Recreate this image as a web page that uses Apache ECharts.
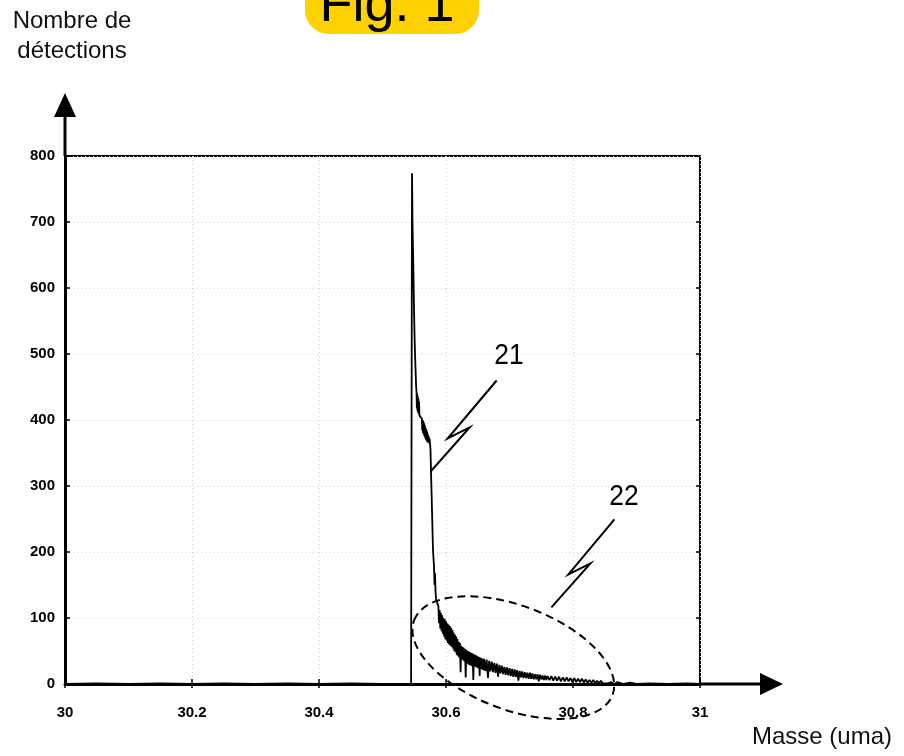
<!DOCTYPE html>
<html>
<head>
<meta charset="utf-8">
<script src="https://cdn.jsdelivr.net/npm/echarts@6/dist/echarts.min.js"></script>
<style>
  html, body { margin: 0; padding: 0; background: #fff; }
  #chart { width: 904px; height: 756px; }
</style>
</head>
<body>
<div id="chart"></div>
<script>
// Axis ranges and tick spacing
const massRange = [30, 31];
const massStep = 0.2;
const countRange = [0, 800];
const countStep = 100;

// Flat background before the peak
const baseMass  = [30.000, 30.050, 30.100, 30.150, 30.200, 30.250, 30.300, 30.350, 30.400, 30.450, 30.500, 30.545];
const baseCount = [0, 1, 0, 1, 0, 1, 0, 1, 0, 1, 0, 0];

// Main peak (21): sharp rise then steep decay with two noisy shoulders
const peakMass = [30.5465, 30.5472, 30.5480, 30.5488, 30.5496, 30.5504, 30.5512, 30.5522, 30.5530,
  30.5536, 30.5541, 30.5546, 30.5551, 30.5556, 30.5561, 30.5566, 30.5571, 30.5576, 30.5582,
  30.5590, 30.5600, 30.5610, 30.5620, 30.5626, 30.5632, 30.5638, 30.5644, 30.5650, 30.5656,
  30.5662, 30.5668, 30.5674, 30.5680, 30.5686, 30.5692, 30.5698, 30.5704, 30.5710, 30.5716,
  30.5722, 30.5728, 30.5734, 30.5740, 30.5748, 30.5756, 30.5764, 30.5780, 30.5795, 30.5810,
  30.5820, 30.5827, 30.5835, 30.5845, 30.5858, 30.5870];
const peakCount = [774, 700, 660, 620, 570, 530, 500, 472, 450,
  442, 418, 440, 414, 436, 411, 432, 409, 428, 407,
  410, 405, 404, 402, 384, 400, 380, 398, 378, 395,
  375, 392, 372, 388, 370, 385, 368, 382, 366, 378,
  366, 375, 365, 372, 365, 355, 321, 262, 203, 180,
  150, 168, 140, 128, 124, 122];

// Noisy tail (22) fading back to the baseline
const tailMass = [30.588, 30.589, 30.590, 30.591, 30.592, 30.593, 30.594, 30.595, 30.596, 30.597,
  30.598, 30.599, 30.600, 30.601, 30.602, 30.603, 30.604, 30.605, 30.606, 30.607,
  30.608, 30.609, 30.610, 30.611, 30.612, 30.613, 30.614, 30.615, 30.616, 30.617,
  30.618, 30.619, 30.620, 30.621, 30.622, 30.623, 30.624, 30.625, 30.626, 30.627,
  30.628, 30.629, 30.630, 30.631, 30.632, 30.633, 30.634, 30.635, 30.636, 30.637,
  30.638, 30.639, 30.640, 30.641, 30.642, 30.643, 30.644, 30.645, 30.646, 30.647,
  30.648, 30.649, 30.650, 30.651, 30.652, 30.653, 30.654, 30.655, 30.656, 30.657,
  30.658, 30.659, 30.660,
  30.662, 30.664, 30.666, 30.668, 30.670, 30.672, 30.674, 30.676, 30.678, 30.680,
  30.682, 30.684, 30.686, 30.688, 30.690, 30.692, 30.694, 30.696, 30.698, 30.700,
  30.702, 30.704, 30.706, 30.708, 30.710, 30.712, 30.714, 30.716, 30.718, 30.720,
  30.722, 30.724, 30.726, 30.728, 30.730, 30.732, 30.734, 30.736, 30.738, 30.740,
  30.742, 30.744, 30.746, 30.748, 30.750, 30.752, 30.754, 30.756, 30.758, 30.760,
  30.763, 30.766, 30.769, 30.772, 30.775, 30.778, 30.781, 30.784, 30.787, 30.790,
  30.793, 30.796, 30.799, 30.802, 30.805, 30.808, 30.811, 30.814, 30.817, 30.820,
  30.823, 30.826, 30.829, 30.832, 30.835, 30.838, 30.841, 30.844, 30.847, 30.850,
  30.855, 30.860, 30.865, 30.870, 30.880, 30.890, 30.900, 30.920, 30.950, 30.980, 31.000];
const tailCount = [118, 92, 112, 84, 108, 80, 104, 76, 100, 72,
  98, 68, 95, 66, 92, 62, 90, 60, 88, 58,
  85, 56, 82, 54, 78, 50, 75, 48, 72, 44,
  68, 42, 64, 40, 62, 18, 58, 38, 56, 36,
  55, 34, 53, 10, 52, 32, 50, 30, 49, 29,
  48, 28, 47, 27, 46, 6, 45, 27, 44, 26,
  43, 25, 42, 24, 41, 12, 40, 23, 39, 22,
  38, 21, 38,
  20, 37, 9, 35, 19, 34, 18, 32, 17, 31,
  11, 29, 16, 28, 15, 26, 14, 25, 13, 24,
  12, 23, 11, 22, 11, 21, 5, 20, 10, 19,
  9, 18, 9, 17, 8, 17, 8, 16, 7, 15,
  7, 15, 4, 14, 7, 13, 6, 13, 6, 12,
  6, 12, 5, 11, 5, 11, 4, 10, 4, 10,
  4, 9, 3, 9, 3, 8, 3, 8, 2, 7,
  2, 6, 2, 6, 1, 5, 1, 5, 1, 4,
  1, 3, 0, 3, 0, 2, 0, 1, 0, 1, 0];

// Text
const yTitleLines = ['Nombre de', 'détections'];
const xTitle = 'Masse (uma)';
const figLabel = 'Fig. 1';
const peakLabel = '21';
const tailLabel = '22';

function zip(xs, ys) { return xs.map((x, i) => [x, ys[i]]); }
const spectrum = [].concat(zip(baseMass, baseCount), zip(peakMass, peakCount), zip(tailMass, tailCount));

const SANS = "'Liberation Sans', Arial, sans-serif";

const chart = echarts.init(document.getElementById('chart'), null, { renderer: 'canvas' });

const tickLabel = { color: '#000', fontFamily: SANS, fontWeight: 'bold', fontSize: 15 };
const gridDots = { show: true, lineStyle: { color: '#d2d2d2', width: 1, type: [1, 3] } };

chart.setOption({
  animation: false,
  backgroundColor: '#fff',
  grid: { left: 65, right: 204, top: 156, bottom: 72, show: true, borderColor: '#000', borderWidth: 2 },
  xAxis: [{
    type: 'value', min: massRange[0], max: massRange[1], interval: massStep,
    axisLine: { show: true, onZero: false, lineStyle: { color: '#000', width: 3 } },
    axisTick: { show: true, inside: true, length: 5, lineStyle: { color: '#000', width: 1.5 } },
    axisLabel: Object.assign({ margin: 21, formatter: v => String(+v.toFixed(1)) }, tickLabel),
    splitLine: gridDots
  }, {
    type: 'value', position: 'top', min: massRange[0], max: massRange[1], interval: massStep,
    axisLine: { show: false }, axisLabel: { show: false }, splitLine: { show: false },
    axisTick: { show: true, inside: true, length: 4, lineStyle: { color: '#000', width: 1.5 } }
  }],
  yAxis: [{
    type: 'value', min: countRange[0], max: countRange[1], interval: countStep,
    axisLine: { show: true, onZero: false, lineStyle: { color: '#000', width: 3 } },
    axisTick: { show: true, inside: true, length: 5, lineStyle: { color: '#000', width: 1.5 } },
    axisLabel: Object.assign({ margin: 10 }, tickLabel),
    splitLine: gridDots
  }, {
    type: 'value', position: 'right', min: countRange[0], max: countRange[1], interval: countStep,
    axisLine: { show: false }, axisLabel: { show: false }, splitLine: { show: false },
    axisTick: { show: true, inside: true, length: 4, lineStyle: { color: '#000', width: 1.5 } }
  }],
  series: [{
    type: 'line', xAxisIndex: 0, yAxisIndex: 0,
    data: spectrum, showSymbol: false, symbol: 'none',
    lineStyle: { color: '#000', width: 1.8 }, z: 3
  }]
});

// Decorations: axis arrows, titles, figure badge and callouts
const px = (m, c) => chart.convertToPixel({ xAxisIndex: 0, yAxisIndex: 0 }, [m, c]);
const origin = px(massRange[0], countRange[0]);
const xEnd = px(massRange[1], countRange[0]);
const yEnd = px(massRange[0], countRange[1]);

const xArrowTip = [xEnd[0] + 83, origin[1]];
const yArrowTip = [origin[0], yEnd[1] - 63];

const ink = { stroke: '#000', lineWidth: 2, fill: null };
const peakEnd = px(30.5758, 322);
const tailEnd = px(30.766, 116);
const ringCentre = px(30.706, 40);

function bolt(end, dxTop, dyTop) {
  // Lightning-style leader drawn from the label down to the curve
  const sx = end[0] + dxTop, sy = end[1] + dyTop;
  return {
    type: 'polyline', z: 10,
    shape: { points: [[sx, sy], [end[0] + 17, end[1] - 33], [end[0] + 39, end[1] - 44], end] },
    style: ink
  };
}

function label(text, x, y) {
  return { type: 'text', z: 10, x: x, y: y, scaleX: 0.88,
    style: { text: text, x: 0, y: 0, textAlign: 'center', textVerticalAlign: 'middle', font: '30px ' + SANS, fill: '#000' } };
}

chart.setOption({
  graphic: { elements: [
    // x-axis extension + arrowhead
    { type: 'line', z: 10, shape: { x1: xEnd[0], y1: origin[1], x2: xArrowTip[0] - 20, y2: origin[1] },
      style: { stroke: '#000', lineWidth: 3 } },
    { type: 'polygon', z: 10, shape: { points: [[xArrowTip[0] - 23, origin[1] - 11], xArrowTip, [xArrowTip[0] - 23, origin[1] + 11]] },
      style: { fill: '#000' } },
    // y-axis extension + arrowhead
    { type: 'line', z: 10, shape: { x1: origin[0], y1: yEnd[1], x2: origin[0], y2: yArrowTip[1] + 20 },
      style: { stroke: '#000', lineWidth: 3 } },
    { type: 'polygon', z: 10, shape: { points: [[origin[0] - 11, yArrowTip[1] + 24], yArrowTip, [origin[0] + 11, yArrowTip[1] + 24]] },
      style: { fill: '#000' } },
    // axis titles
    { type: 'text', z: 10, style: { text: yTitleLines[0], x: 72, y: 33, textAlign: 'center', textVerticalAlign: 'bottom', font: '24px ' + SANS, fill: '#111' } },
    { type: 'text', z: 10, style: { text: yTitleLines[1], x: 72, y: 63, textAlign: 'center', textVerticalAlign: 'bottom', font: '24px ' + SANS, fill: '#111' } },
    { type: 'text', z: 10, style: { text: xTitle, x: 892, y: 737, textAlign: 'right', textVerticalAlign: 'middle', font: '24px ' + SANS, fill: '#111' } },
    // figure badge
    { type: 'rect', z: 9, shape: { x: 305, y: -30, width: 174, height: 64, r: 24 }, style: { fill: '#FFD100' } },
    { type: 'text', z: 10, style: { text: figLabel, x: 387, y: 33, textAlign: 'center', textVerticalAlign: 'bottom', font: '54px ' + SANS, fill: '#000' } },
    // callout 21
    label(peakLabel, 509, 356),
    bolt(peakEnd, 66, -91),
    // callout 22
    label(tailLabel, 624, 497),
    bolt(tailEnd, 63, -88),
    // dashed ring around the tail
    { type: 'ellipse', z: 10, x: ringCentre[0], y: ringCentre[1], rotation: -0.36,
      shape: { cx: 0, cy: 0, rx: 106, ry: 52 },
      style: { stroke: '#000', lineWidth: 2, fill: null, lineDash: [8, 5] } }
  ] }
});
</script>
</body>
</html>
